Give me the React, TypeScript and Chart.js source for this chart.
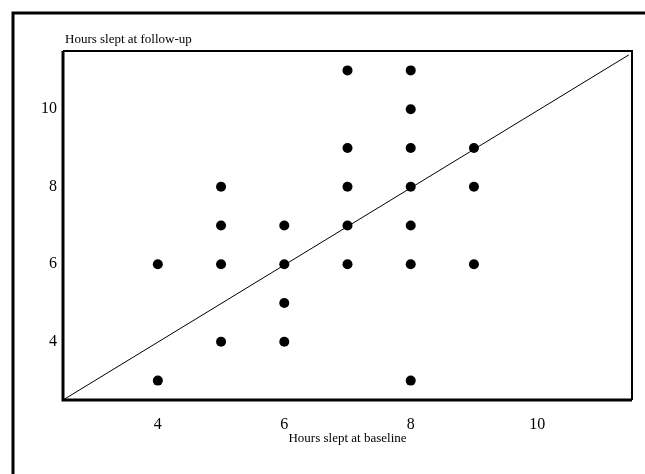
import React, { useEffect, useRef } from "react";
import { Chart, registerables } from "chart.js";

Chart.register(...registerables);

const baselineHours = [4, 4, 5, 5, 5, 5, 6, 6, 6, 6, 7, 7, 7, 7, 7, 8, 8, 8, 8, 8, 8, 8, 9, 9, 9];
const followupHours = [6, 3, 8, 7, 6, 4, 7, 6, 5, 4, 11, 9, 8, 7, 6, 11, 10, 9, 8, 7, 6, 3, 9, 8, 6];
const xTicks = [4, 6, 8, 10];
const yTicks = [4, 6, 8, 10];
const refLineX = [2.5, 11.45];
const refLineY = [2.5, 11.4];
const axisMin = 2.5;
const axisMax = 11.5;
const xTitle = "Hours slept at baseline";
const yTitle = "Hours slept at follow-up";

const FONT = "'Liberation Serif', 'Times New Roman', serif";

const framePlugin = {
  id: "frame",
  afterDraw(chart: any) {
    const { ctx, chartArea } = chart;
    const { left, top, right, bottom } = chartArea;
    ctx.save();
    ctx.strokeStyle = "#000";
    // outer frame (top and left)
    ctx.lineWidth = 3;
    ctx.beginPath();
    ctx.moveTo(13, 474);
    ctx.lineTo(13, 13);
    ctx.lineTo(645, 13);
    ctx.stroke();
    // plot box
    ctx.lineWidth = 3;
    ctx.beginPath();
    ctx.moveTo(left, top);
    ctx.lineTo(left, bottom);
    ctx.lineTo(right, bottom);
    ctx.stroke();
    ctx.lineWidth = 2;
    ctx.beginPath();
    ctx.moveTo(left, top);
    ctx.lineTo(right, top);
    ctx.lineTo(right, bottom);
    ctx.stroke();
    // titles
    ctx.fillStyle = "#000";
    ctx.font = `13px ${FONT}`;
    ctx.textAlign = "left";
    ctx.textBaseline = "alphabetic";
    ctx.fillText(yTitle, left + 2, top - 8);
    ctx.textAlign = "center";
    ctx.textBaseline = "middle";
    ctx.fillText(xTitle, (left + right) / 2, bottom + 39);
    ctx.restore();
  },
};

export default function App() {
  const ref = useRef<HTMLCanvasElement | null>(null);
  useEffect(() => {
    if (!ref.current) return;
    const points = baselineHours.map((x, i) => ({ x, y: followupHours[i] }));
    const line = refLineX.map((x, i) => ({ x, y: refLineY[i] }));
    const chart = new Chart(ref.current, {
      type: "scatter",
      data: {
        datasets: [
          {
            type: "line",
            data: line,
            borderColor: "#000",
            borderWidth: 1,
            pointRadius: 0,
            fill: false,
          } as any,
          {
            data: points,
            backgroundColor: "#000",
            borderWidth: 0,
            pointRadius: 5,
            pointHoverRadius: 5,
          },
        ],
      },
      options: {
        animation: false,
        responsive: false,
        devicePixelRatio: 1,
        layout: { padding: { left: 0, top: 51, right: 13, bottom: 0 } },
        plugins: { legend: { display: false }, tooltip: { enabled: false } },
        scales: {
          x: {
            type: "linear",
            min: axisMin,
            max: axisMax,
            grid: { display: false, drawTicks: false },
            border: { display: false },
            afterBuildTicks: (s: any) => {
              s.ticks = xTicks.map((v) => ({ value: v }));
            },
            afterFit: (s: any) => {
              s.height = 74;
            },
            ticks: {
              color: "#000",
              padding: 15,
              font: { family: FONT, size: 16 },
            },
          },
          y: {
            type: "linear",
            min: axisMin,
            max: axisMax,
            grid: { display: false, drawTicks: false },
            border: { display: false },
            afterBuildTicks: (s: any) => {
              s.ticks = yTicks.map((v) => ({ value: v }));
            },
            afterFit: (s: any) => {
              s.width = 63;
            },
            ticks: {
              color: "#000",
              padding: 6,
              font: { family: FONT, size: 16 },
            },
          },
        },
      },
      plugins: [framePlugin],
    });
    return () => chart.destroy();
  }, []);
  return (
    <div style={{ position: "fixed", left: 0, top: 0, width: 645, height: 474, background: "#fff" }}>
      <canvas ref={ref} width={645} height={474} style={{ width: 645, height: 474 }} />
    </div>
  );
}
